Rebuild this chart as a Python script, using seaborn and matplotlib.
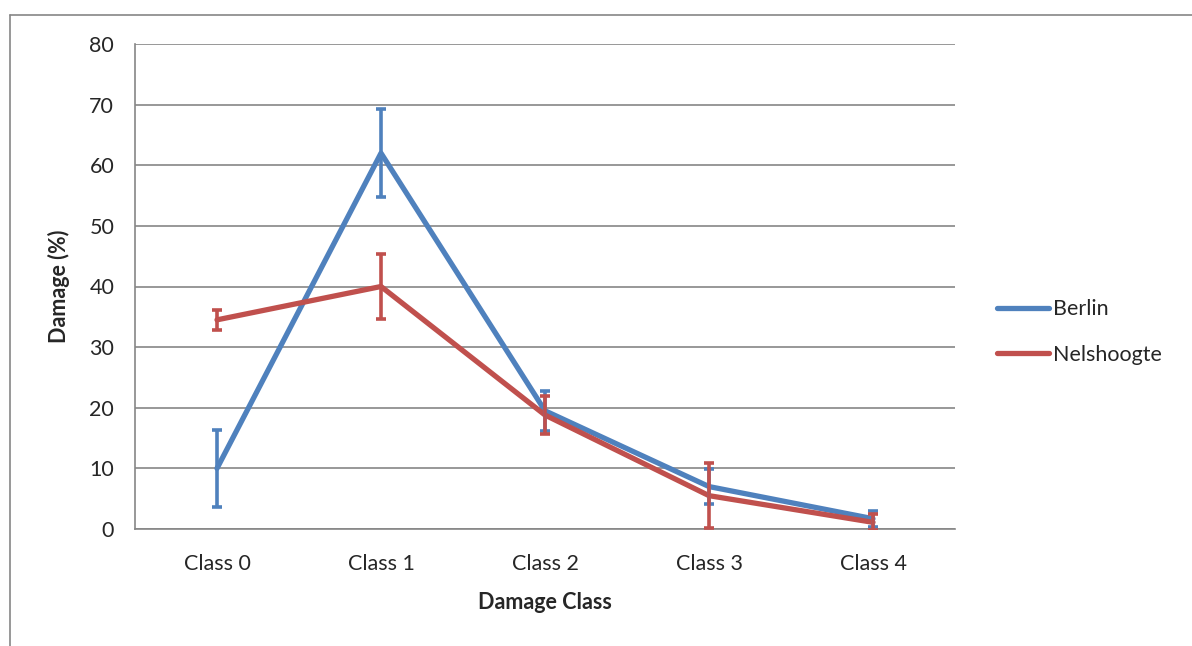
import numpy as np
import pandas as pd
import matplotlib
matplotlib.use("Agg")
import matplotlib.pyplot as plt
import seaborn as sns
from matplotlib.lines import Line2D

# Дані
classes = ["Class 0", "Class 1", "Class 2", "Class 3", "Class 4"]
berlin = [10.0, 62.0, 19.5, 7.0, 1.7]
berlin_err = [6.4, 7.3, 3.3, 2.9, 1.3]
nelshoogte = [34.5, 40.0, 18.8, 5.5, 1.1]
nelshoogte_err = [1.7, 5.4, 3.1, 5.4, 1.3]

blue = "#4F81BD"
red = "#C0504D"

df = pd.DataFrame({
    "cls": classes * 2,
    "val": berlin + nelshoogte,
    "site": ["Berlin"] * 5 + ["Nelshoogte"] * 5,
})

sns.set_style("white")
plt.rcParams["font.family"] = ["Lato", "DejaVu Sans"]

fig = plt.figure(figsize=(11.92, 6.46), dpi=100)
ax = fig.add_axes([135 / 1192, 1 - 529 / 646, 820 / 1192, 485 / 646])

sns.lineplot(data=df, x="cls", y="val", hue="site", palette=[blue, red],
             linewidth=3.8, ax=ax, sort=False, legend=False)

x = np.arange(len(classes))
for vals, errs, col in [(berlin, berlin_err, blue), (nelshoogte, nelshoogte_err, red)]:
    ax.errorbar(x, vals, yerr=errs, fmt="none", ecolor=col, elinewidth=2.6,
                capsize=3.8, capthick=2.6, zorder=5)

ax.set_xlim(-0.5, 4.5)
ax.set_ylim(0, 80)
ax.set_yticks(range(0, 81, 10))
ax.set_xticks(x)
ax.set_xticklabels(classes)
ax.set_xticks(np.arange(-0.5, 5, 1), minor=True)
ax.tick_params(axis="x", which="major", length=0, labelsize=15.5, pad=18)
ax.tick_params(axis="x", which="minor", length=7, color="#868686", width=1.2, direction="out")
ax.tick_params(axis="y", length=7, color="#868686", width=1.2, direction="out", labelsize=15.5, pad=8)
ax.yaxis.grid(True, color="#868686", linewidth=1.2)
ax.set_axisbelow(True)
for s in ["top", "right"]:
    ax.spines[s].set_visible(False)
for s in ["left", "bottom"]:
    ax.spines[s].set_color("#868686")
    ax.spines[s].set_linewidth(1.2)

ax.set_xlabel("Damage Class", fontsize=15.5, fontweight="bold", labelpad=13)
ax.set_ylabel("Damage (%)", fontsize=15.5, fontweight="bold", labelpad=14)

handles = [Line2D([0], [0], color=blue, lw=3.8, solid_capstyle="round"),
           Line2D([0], [0], color=red, lw=3.8, solid_capstyle="round")]
fig.legend(handles, ["Berlin", "Nelshoogte"], loc="center left",
           bbox_to_anchor=(978 / 1192, 1 - 332 / 646), frameon=False,
           fontsize=15.5, handlelength=2.4, handletextpad=0.2, labelspacing=1.2)

# рамка навколо діаграми
fig.add_artist(Line2D([10 / 1192, 10 / 1192], [0, 1 - 15 / 646], color="#868686", lw=1.2,
                      transform=fig.transFigure))
fig.add_artist(Line2D([10 / 1192, 1], [1 - 15 / 646, 1 - 15 / 646], color="#868686", lw=1.2,
                      transform=fig.transFigure))

fig.savefig("out.png", dpi=100)
